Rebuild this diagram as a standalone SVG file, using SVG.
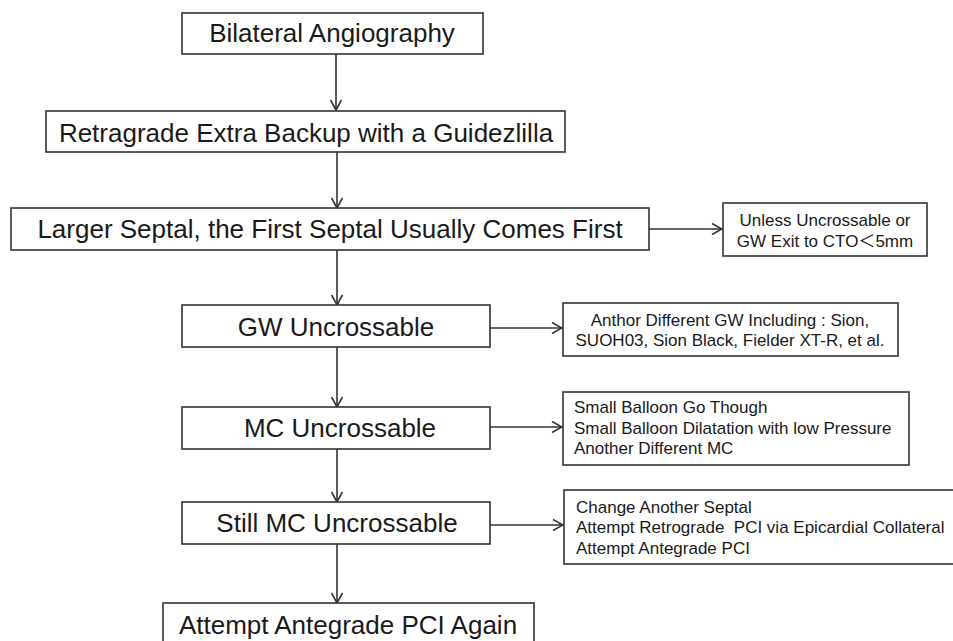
<svg xmlns="http://www.w3.org/2000/svg" width="953" height="641" viewBox="0 0 953 641">
<style>
.box{fill:#fff;stroke:#333;stroke-width:1.6}
.t{font-family:"Liberation Sans",Arial,"Noto Sans CJK SC",sans-serif;font-size:26px;fill:#1a1a1a;text-anchor:middle}
.s{font-family:"Liberation Sans",Arial,"Noto Sans CJK SC",sans-serif;font-size:17px;fill:#1a1a1a}
.c{text-anchor:middle}
.ln{fill:none;stroke:#333;stroke-width:1.6}
</style>
<defs>
<marker id="arr" viewBox="0 0 12 12" refX="11" refY="6" markerWidth="12" markerHeight="12" orient="auto" markerUnits="userSpaceOnUse">
<path d="M1,0.5 L11,6 L1,11.5" fill="none" stroke="#333" stroke-width="1.6"/>
</marker>
</defs>
<rect width="953" height="641" fill="#fff"/>
<g id="connectors">
<line class="ln" x1="336" y1="54" x2="336" y2="110" marker-end="url(#arr)"/>
<line class="ln" x1="337" y1="152" x2="337" y2="208" marker-end="url(#arr)"/>
<line class="ln" x1="337" y1="250" x2="337" y2="305" marker-end="url(#arr)"/>
<line class="ln" x1="337" y1="347" x2="337" y2="407" marker-end="url(#arr)"/>
<line class="ln" x1="337" y1="449" x2="337" y2="502" marker-end="url(#arr)"/>
<line class="ln" x1="337" y1="544" x2="337" y2="603" marker-end="url(#arr)"/>
<line class="ln" x1="649" y1="229" x2="722" y2="229" marker-end="url(#arr)"/>
<line class="ln" x1="490" y1="328" x2="562" y2="328" marker-end="url(#arr)"/>
<line class="ln" x1="490" y1="427" x2="562" y2="427" marker-end="url(#arr)"/>
<line class="ln" x1="490" y1="525" x2="563" y2="525" marker-end="url(#arr)"/>
</g>
<g id="n1"><rect class="box" x="182" y="13" width="301" height="41"/><text class="t" x="332" y="42">Bilateral Angiography</text></g>
<g id="n2"><rect class="box" x="46" y="111" width="519" height="41"/><text class="t" x="306" y="142">Retragrade Extra Backup with a Guidezlilla</text></g>
<g id="n3"><rect class="box" x="11" y="208" width="638" height="42"/><text class="t" x="330" y="238">Larger Septal, the First Septal Usually Comes First</text></g>
<g id="n4"><rect class="box" x="182" y="305" width="308" height="42"/><text class="t" x="336" y="336">GW Uncrossable</text></g>
<g id="n5"><rect class="box" x="182" y="407" width="308" height="42"/><text class="t" x="340" y="437">MC Uncrossable</text></g>
<g id="n6"><rect class="box" x="182" y="502" width="308" height="42"/><text class="t" x="337" y="532">Still MC Uncrossable</text></g>
<g id="n7"><rect class="box" x="163" y="603" width="371" height="50"/><text class="t" x="348" y="634">Attempt Antegrade PCI Again</text></g>
<g id="r1"><rect class="box" x="723" y="203" width="204" height="53"/>
<text class="s c" x="825" y="226">Unless Uncrossable or</text>
<text class="s c" x="825" y="247">GW Exit to CTO＜5mm</text></g>
<g id="r2"><rect class="box" x="563" y="303" width="335" height="53"/>
<text class="s c" x="730" y="326">Anthor Different GW Including : Sion,</text>
<text class="s c" x="730" y="346">SUOH03, Sion Black, Fielder XT-R, et al.</text></g>
<g id="r3"><rect class="box" x="563" y="392" width="346" height="73"/>
<text class="s" x="574" y="413">Small Balloon Go Though</text>
<text class="s" x="574" y="434">Small Balloon Dilatation with low Pressure</text>
<text class="s" x="574" y="454">Another Different MC</text></g>
<g id="r4"><rect class="box" x="564" y="490" width="400" height="74"/>
<text class="s" x="576" y="513">Change Another Septal</text>
<text class="s" x="576" y="533" xml:space="preserve">Attempt Retrograde  PCI via Epicardial Collateral</text>
<text class="s" x="576" y="554">Attempt Antegrade PCI</text></g>
</svg>
